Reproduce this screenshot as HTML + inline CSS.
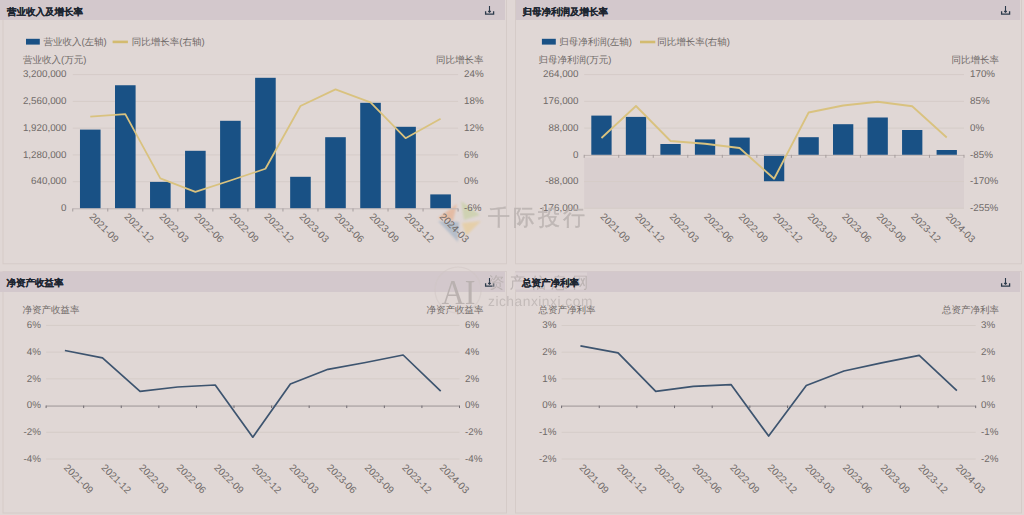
<!DOCTYPE html>
<html><head><meta charset="utf-8"><style>
html,body{margin:0;padding:0;width:1024px;height:515px;overflow:hidden;background:#e0d7d5;}
svg{display:block;font-family:'Liberation Sans', sans-serif;text-rendering:geometricPrecision;}
</style></head><body>
<svg width="1024" height="515" viewBox="0 0 1024 515">
<rect x="0" y="0" width="1024" height="515" fill="#e0d7d5"/>
<rect x="3" y="-0.5" width="503.5" height="264.3" fill="#e0d7d5" stroke="#d5cbc8" stroke-width="1"/>
<rect x="0" y="-0.5" width="505.00" height="20.5" fill="#d3c8cc"/>
<path d="M489.5 6.0V12.3M488.2 11.0L489.5 12.3L490.8 11.0" stroke="#2b3a4a" stroke-width="1.1" fill="none"/>
<path d="M485.6 11.2V14.2H493.6V11.2" stroke="#2b3a4a" stroke-width="1.3" fill="none"/>
<rect x="515.5" y="-0.5" width="506.0" height="264.3" fill="#e0d7d5" stroke="#d5cbc8" stroke-width="1"/>
<rect x="516.0" y="-0.5" width="504.00" height="20.5" fill="#d3c8cc"/>
<path d="M1005.5 6.0V12.3M1004.2 11.0L1005.5 12.3L1006.8 11.0" stroke="#2b3a4a" stroke-width="1.1" fill="none"/>
<path d="M1001.6 11.2V14.2H1009.6V11.2" stroke="#2b3a4a" stroke-width="1.3" fill="none"/>
<rect x="3" y="271.5" width="503.5" height="241.5" fill="#e0d7d5" stroke="#d5cbc8" stroke-width="1"/>
<rect x="0" y="271.5" width="505.00" height="20.5" fill="#d3c8cc"/>
<path d="M489.5 278.0V284.3M488.2 283.0L489.5 284.3L490.8 283.0" stroke="#2b3a4a" stroke-width="1.1" fill="none"/>
<path d="M485.6 283.2V286.2H493.6V283.2" stroke="#2b3a4a" stroke-width="1.3" fill="none"/>
<rect x="515.5" y="271.5" width="506.0" height="241.5" fill="#e0d7d5" stroke="#d5cbc8" stroke-width="1"/>
<rect x="516.0" y="271.5" width="504.00" height="20.5" fill="#d3c8cc"/>
<path d="M1005.5 278.0V284.3M1004.2 283.0L1005.5 284.3L1006.8 283.0" stroke="#2b3a4a" stroke-width="1.1" fill="none"/>
<path d="M1001.6 283.2V286.2H1009.6V283.2" stroke="#2b3a4a" stroke-width="1.3" fill="none"/>
<defs><filter id="bl" x="-20%" y="-20%" width="140%" height="140%"><feGaussianBlur stdDeviation="0.9"/></filter></defs><g opacity="0.7" filter="url(#bl)">
<polygon points="438,218 457,204 453,221" fill="#e6b08f"/>
<polygon points="461,201 480,215 464,220" fill="#c8d0a4"/>
<polygon points="438,221 459,222 458,242" fill="#a4b4c6"/>
<polygon points="462,223 481,221 466,236" fill="#e8cc98"/>
</g>
<line x1="72.75" y1="74.6" x2="458.1" y2="74.6" stroke="#d5ccc8" stroke-width="1"/>
<line x1="72.75" y1="101.38" x2="458.1" y2="101.38" stroke="#d5ccc8" stroke-width="1"/>
<line x1="72.75" y1="128.16" x2="458.1" y2="128.16" stroke="#d5ccc8" stroke-width="1"/>
<line x1="72.75" y1="154.94" x2="458.1" y2="154.94" stroke="#d5ccc8" stroke-width="1"/>
<line x1="72.75" y1="181.72" x2="458.1" y2="181.72" stroke="#d5ccc8" stroke-width="1"/>
<rect x="79.97" y="129.6" width="20.6" height="78.90" fill="#195185"/>
<rect x="115.00" y="85.25" width="20.6" height="123.25" fill="#195185"/>
<rect x="150.03" y="181.9" width="20.6" height="26.60" fill="#195185"/>
<rect x="185.06" y="150.8" width="20.6" height="57.70" fill="#195185"/>
<rect x="220.09" y="120.8" width="20.6" height="87.70" fill="#195185"/>
<rect x="255.12" y="77.8" width="20.6" height="130.70" fill="#195185"/>
<rect x="290.16" y="176.8" width="20.6" height="31.70" fill="#195185"/>
<rect x="325.19" y="137.2" width="20.6" height="71.30" fill="#195185"/>
<rect x="360.22" y="102.8" width="20.6" height="105.70" fill="#195185"/>
<rect x="395.25" y="126.8" width="20.6" height="81.70" fill="#195185"/>
<rect x="430.28" y="194.4" width="20.6" height="14.10" fill="#195185"/>
<line x1="72.75" y1="208.8" x2="458.1" y2="208.8" stroke="#bdb4b4" stroke-width="1"/>
<line x1="72.75" y1="208.5" x2="72.75" y2="211.5" stroke="#a59d9d" stroke-width="1"/>
<line x1="107.78" y1="208.5" x2="107.78" y2="211.5" stroke="#a59d9d" stroke-width="1"/>
<line x1="142.81" y1="208.5" x2="142.81" y2="211.5" stroke="#a59d9d" stroke-width="1"/>
<line x1="177.85" y1="208.5" x2="177.85" y2="211.5" stroke="#a59d9d" stroke-width="1"/>
<line x1="212.88" y1="208.5" x2="212.88" y2="211.5" stroke="#a59d9d" stroke-width="1"/>
<line x1="247.91" y1="208.5" x2="247.91" y2="211.5" stroke="#a59d9d" stroke-width="1"/>
<line x1="282.94" y1="208.5" x2="282.94" y2="211.5" stroke="#a59d9d" stroke-width="1"/>
<line x1="317.97" y1="208.5" x2="317.97" y2="211.5" stroke="#a59d9d" stroke-width="1"/>
<line x1="353.00" y1="208.5" x2="353.00" y2="211.5" stroke="#a59d9d" stroke-width="1"/>
<line x1="388.04" y1="208.5" x2="388.04" y2="211.5" stroke="#a59d9d" stroke-width="1"/>
<line x1="423.07" y1="208.5" x2="423.07" y2="211.5" stroke="#a59d9d" stroke-width="1"/>
<line x1="458.10" y1="208.5" x2="458.10" y2="211.5" stroke="#a59d9d" stroke-width="1"/>
<polyline points="90.27,116.7 125.30,114.1 160.33,178.4 195.36,191.9 230.39,180.5 265.43,168.75 300.46,106 335.49,89.4 370.52,102.3 405.55,138.2 440.58,118.7" fill="none" stroke="#d9c27f" stroke-width="1.8" stroke-linejoin="round"/>
<text x="66.5" y="77.30" font-size="9.8" fill="#6f6967" text-anchor="end">3,200,000</text>
<text x="66.5" y="104.08" font-size="9.8" fill="#6f6967" text-anchor="end">2,560,000</text>
<text x="66.5" y="130.86" font-size="9.8" fill="#6f6967" text-anchor="end">1,920,000</text>
<text x="66.5" y="157.64" font-size="9.8" fill="#6f6967" text-anchor="end">1,280,000</text>
<text x="66.5" y="184.42" font-size="9.8" fill="#6f6967" text-anchor="end">640,000</text>
<text x="66.5" y="211.20" font-size="9.8" fill="#6f6967" text-anchor="end">0</text>
<text x="464" y="77.30" font-size="9.8" fill="#6f6967">24%</text>
<text x="464" y="104.08" font-size="9.8" fill="#6f6967">18%</text>
<text x="464" y="130.86" font-size="9.8" fill="#6f6967">12%</text>
<text x="464" y="157.64" font-size="9.8" fill="#6f6967">6%</text>
<text x="464" y="184.42" font-size="9.8" fill="#6f6967">0%</text>
<text x="464" y="211.20" font-size="9.8" fill="#6f6967">-6%</text>
<text x="23" y="62.9" font-size="9.5" fill="#6f6967">营业收入(万元)</text>
<text x="483.5" y="62.9" font-size="9.5" fill="#6f6967" text-anchor="end">同比增长率</text>
<text transform="translate(88.67,217.20) rotate(45)" font-size="10" fill="#6f6967">2021-09</text>
<text transform="translate(123.70,217.20) rotate(45)" font-size="10" fill="#6f6967">2021-12</text>
<text transform="translate(158.73,217.20) rotate(45)" font-size="10" fill="#6f6967">2022-03</text>
<text transform="translate(193.76,217.20) rotate(45)" font-size="10" fill="#6f6967">2022-06</text>
<text transform="translate(228.79,217.20) rotate(45)" font-size="10" fill="#6f6967">2022-09</text>
<text transform="translate(263.82,217.20) rotate(45)" font-size="10" fill="#6f6967">2022-12</text>
<text transform="translate(298.86,217.20) rotate(45)" font-size="10" fill="#6f6967">2023-03</text>
<text transform="translate(333.89,217.20) rotate(45)" font-size="10" fill="#6f6967">2023-06</text>
<text transform="translate(368.92,217.20) rotate(45)" font-size="10" fill="#6f6967">2023-09</text>
<text transform="translate(403.95,217.20) rotate(45)" font-size="10" fill="#6f6967">2023-12</text>
<text transform="translate(438.98,217.20) rotate(45)" font-size="10" fill="#6f6967">2024-03</text>
<rect x="26" y="38.8" width="13.8" height="5.8" fill="#195185"/>
<text x="43.4" y="45" font-size="9.5" fill="#6f6967">营业收入(左轴)</text>
<line x1="112.6" y1="41.9" x2="127.9" y2="41.9" stroke="#d3bb70" stroke-width="2.6"/>
<text x="131.8" y="45" font-size="9.5" fill="#6f6967">同比增长率(右轴)</text>
<rect x="584.2" y="157.5" width="379.80" height="50.80" fill="#d9cfcf"/>
<line x1="584.2" y1="74.6" x2="964" y2="74.6" stroke="#d5ccc8" stroke-width="1"/>
<line x1="584.2" y1="101.34" x2="964" y2="101.34" stroke="#d5ccc8" stroke-width="1"/>
<line x1="584.2" y1="128.07999999999998" x2="964" y2="128.07999999999998" stroke="#d5ccc8" stroke-width="1"/>
<line x1="584.2" y1="181.56" x2="964" y2="181.56" stroke="#d5ccc8" stroke-width="1"/>
<line x1="584.2" y1="208.3" x2="964" y2="208.3" stroke="#d5ccc8" stroke-width="1"/>
<rect x="591.31" y="115.60" width="20.3" height="39.22" fill="#195185"/>
<rect x="625.84" y="116.90" width="20.3" height="37.92" fill="#195185"/>
<rect x="660.37" y="144.00" width="20.3" height="10.82" fill="#195185"/>
<rect x="694.90" y="139.40" width="20.3" height="15.42" fill="#195185"/>
<rect x="729.42" y="137.60" width="20.3" height="17.22" fill="#195185"/>
<rect x="763.95" y="154.82" width="20.3" height="26.43" fill="#195185"/>
<rect x="798.48" y="137.20" width="20.3" height="17.62" fill="#195185"/>
<rect x="833.00" y="124.20" width="20.3" height="30.62" fill="#195185"/>
<rect x="867.53" y="117.50" width="20.3" height="37.32" fill="#195185"/>
<rect x="902.06" y="130.00" width="20.3" height="24.82" fill="#195185"/>
<rect x="936.59" y="150.00" width="20.3" height="4.82" fill="#195185"/>
<line x1="584.2" y1="155.42" x2="964" y2="155.42" stroke="#bdb4b4" stroke-width="1"/>
<line x1="584.20" y1="154.82" x2="584.20" y2="157.82" stroke="#a59d9d" stroke-width="1"/>
<line x1="618.73" y1="154.82" x2="618.73" y2="157.82" stroke="#a59d9d" stroke-width="1"/>
<line x1="653.25" y1="154.82" x2="653.25" y2="157.82" stroke="#a59d9d" stroke-width="1"/>
<line x1="687.78" y1="154.82" x2="687.78" y2="157.82" stroke="#a59d9d" stroke-width="1"/>
<line x1="722.31" y1="154.82" x2="722.31" y2="157.82" stroke="#a59d9d" stroke-width="1"/>
<line x1="756.84" y1="154.82" x2="756.84" y2="157.82" stroke="#a59d9d" stroke-width="1"/>
<line x1="791.36" y1="154.82" x2="791.36" y2="157.82" stroke="#a59d9d" stroke-width="1"/>
<line x1="825.89" y1="154.82" x2="825.89" y2="157.82" stroke="#a59d9d" stroke-width="1"/>
<line x1="860.42" y1="154.82" x2="860.42" y2="157.82" stroke="#a59d9d" stroke-width="1"/>
<line x1="894.95" y1="154.82" x2="894.95" y2="157.82" stroke="#a59d9d" stroke-width="1"/>
<line x1="929.47" y1="154.82" x2="929.47" y2="157.82" stroke="#a59d9d" stroke-width="1"/>
<line x1="964.00" y1="154.82" x2="964.00" y2="157.82" stroke="#a59d9d" stroke-width="1"/>
<polyline points="601.46,138 635.99,106 670.52,141 705.05,143.75 739.57,148 774.10,178.75 808.63,112.5 843.15,105.5 877.68,101.75 912.21,106.25 946.74,137.5" fill="none" stroke="#d9c27f" stroke-width="1.8" stroke-linejoin="round"/>
<text x="578.5" y="77.30" font-size="9.8" fill="#6f6967" text-anchor="end">264,000</text>
<text x="578.5" y="104.04" font-size="9.8" fill="#6f6967" text-anchor="end">176,000</text>
<text x="578.5" y="130.78" font-size="9.8" fill="#6f6967" text-anchor="end">88,000</text>
<text x="578.5" y="157.52" font-size="9.8" fill="#6f6967" text-anchor="end">0</text>
<text x="578.5" y="184.26" font-size="9.8" fill="#6f6967" text-anchor="end">-88,000</text>
<text x="578.5" y="211.00" font-size="9.8" fill="#6f6967" text-anchor="end">-176,000</text>
<text x="970" y="77.30" font-size="9.8" fill="#6f6967">170%</text>
<text x="970" y="104.04" font-size="9.8" fill="#6f6967">85%</text>
<text x="970" y="130.78" font-size="9.8" fill="#6f6967">0%</text>
<text x="970" y="157.52" font-size="9.8" fill="#6f6967">-85%</text>
<text x="970" y="184.26" font-size="9.8" fill="#6f6967">-170%</text>
<text x="970" y="211.00" font-size="9.8" fill="#6f6967">-255%</text>
<text x="538.5" y="62.9" font-size="9.5" fill="#6f6967">归母净利润(万元)</text>
<text x="999" y="62.9" font-size="9.5" fill="#6f6967" text-anchor="end">同比增长率</text>
<text transform="translate(599.86,217.20) rotate(45)" font-size="10" fill="#6f6967">2021-09</text>
<text transform="translate(634.39,217.20) rotate(45)" font-size="10" fill="#6f6967">2021-12</text>
<text transform="translate(668.92,217.20) rotate(45)" font-size="10" fill="#6f6967">2022-03</text>
<text transform="translate(703.45,217.20) rotate(45)" font-size="10" fill="#6f6967">2022-06</text>
<text transform="translate(737.97,217.20) rotate(45)" font-size="10" fill="#6f6967">2022-09</text>
<text transform="translate(772.50,217.20) rotate(45)" font-size="10" fill="#6f6967">2022-12</text>
<text transform="translate(807.03,217.20) rotate(45)" font-size="10" fill="#6f6967">2023-03</text>
<text transform="translate(841.55,217.20) rotate(45)" font-size="10" fill="#6f6967">2023-06</text>
<text transform="translate(876.08,217.20) rotate(45)" font-size="10" fill="#6f6967">2023-09</text>
<text transform="translate(910.61,217.20) rotate(45)" font-size="10" fill="#6f6967">2023-12</text>
<text transform="translate(945.14,217.20) rotate(45)" font-size="10" fill="#6f6967">2024-03</text>
<rect x="541.9" y="38.8" width="13.9" height="5.8" fill="#195185"/>
<text x="559.2" y="45" font-size="9.5" fill="#6f6967">归母净利润(左轴)</text>
<line x1="640" y1="42" x2="655.3" y2="42" stroke="#d3bb70" stroke-width="2.6"/>
<text x="657.2" y="45" font-size="9.5" fill="#6f6967">同比增长率(右轴)</text>
<line x1="46.1" y1="325.4" x2="459.5" y2="325.4" stroke="#d5ccc8" stroke-width="1"/>
<line x1="46.1" y1="352.12" x2="459.5" y2="352.12" stroke="#d5ccc8" stroke-width="1"/>
<line x1="46.1" y1="378.84" x2="459.5" y2="378.84" stroke="#d5ccc8" stroke-width="1"/>
<line x1="46.1" y1="432.28" x2="459.5" y2="432.28" stroke="#d5ccc8" stroke-width="1"/>
<line x1="46.1" y1="459.0" x2="459.5" y2="459.0" stroke="#d5ccc8" stroke-width="1"/>
<line x1="46.1" y1="406.06" x2="459.5" y2="406.06" stroke="#9c9496" stroke-width="1"/>
<line x1="46.10" y1="405.56" x2="46.10" y2="408.06" stroke="#6f6a70" stroke-width="1"/>
<line x1="83.68" y1="405.56" x2="83.68" y2="408.06" stroke="#6f6a70" stroke-width="1"/>
<line x1="121.26" y1="405.56" x2="121.26" y2="408.06" stroke="#6f6a70" stroke-width="1"/>
<line x1="158.85" y1="405.56" x2="158.85" y2="408.06" stroke="#6f6a70" stroke-width="1"/>
<line x1="196.43" y1="405.56" x2="196.43" y2="408.06" stroke="#6f6a70" stroke-width="1"/>
<line x1="234.01" y1="405.56" x2="234.01" y2="408.06" stroke="#6f6a70" stroke-width="1"/>
<line x1="271.59" y1="405.56" x2="271.59" y2="408.06" stroke="#6f6a70" stroke-width="1"/>
<line x1="309.17" y1="405.56" x2="309.17" y2="408.06" stroke="#6f6a70" stroke-width="1"/>
<line x1="346.75" y1="405.56" x2="346.75" y2="408.06" stroke="#6f6a70" stroke-width="1"/>
<line x1="384.34" y1="405.56" x2="384.34" y2="408.06" stroke="#6f6a70" stroke-width="1"/>
<line x1="421.92" y1="405.56" x2="421.92" y2="408.06" stroke="#6f6a70" stroke-width="1"/>
<line x1="459.50" y1="405.56" x2="459.50" y2="408.06" stroke="#6f6a70" stroke-width="1"/>
<polyline points="64.89,350.5 102.47,357.9 140.05,391.4 177.64,387 215.22,385 252.80,437.2 290.38,384 327.96,369.3 365.55,362.5 403.13,355 440.71,391.2" fill="none" stroke="#3d546f" stroke-width="1.7" stroke-linejoin="round"/>
<text x="41" y="328.10" font-size="9.8" fill="#6f6967" text-anchor="end">6%</text>
<text x="41" y="354.82" font-size="9.8" fill="#6f6967" text-anchor="end">4%</text>
<text x="41" y="381.54" font-size="9.8" fill="#6f6967" text-anchor="end">2%</text>
<text x="41" y="408.26" font-size="9.8" fill="#6f6967" text-anchor="end">0%</text>
<text x="41" y="434.98" font-size="9.8" fill="#6f6967" text-anchor="end">-2%</text>
<text x="41" y="461.70" font-size="9.8" fill="#6f6967" text-anchor="end">-4%</text>
<text x="465" y="328.10" font-size="9.8" fill="#6f6967">6%</text>
<text x="465" y="354.82" font-size="9.8" fill="#6f6967">4%</text>
<text x="465" y="381.54" font-size="9.8" fill="#6f6967">2%</text>
<text x="465" y="408.26" font-size="9.8" fill="#6f6967">0%</text>
<text x="465" y="434.98" font-size="9.8" fill="#6f6967">-2%</text>
<text x="465" y="461.70" font-size="9.8" fill="#6f6967">-4%</text>
<text x="22.5" y="313" font-size="9.5" fill="#6f6967">净资产收益率</text>
<text x="483.5" y="313" font-size="9.5" fill="#6f6967" text-anchor="end">净资产收益率</text>
<text transform="translate(63.29,468.20) rotate(45)" font-size="10" fill="#6f6967">2021-09</text>
<text transform="translate(100.87,468.20) rotate(45)" font-size="10" fill="#6f6967">2021-12</text>
<text transform="translate(138.45,468.20) rotate(45)" font-size="10" fill="#6f6967">2022-03</text>
<text transform="translate(176.04,468.20) rotate(45)" font-size="10" fill="#6f6967">2022-06</text>
<text transform="translate(213.62,468.20) rotate(45)" font-size="10" fill="#6f6967">2022-09</text>
<text transform="translate(251.20,468.20) rotate(45)" font-size="10" fill="#6f6967">2022-12</text>
<text transform="translate(288.78,468.20) rotate(45)" font-size="10" fill="#6f6967">2023-03</text>
<text transform="translate(326.36,468.20) rotate(45)" font-size="10" fill="#6f6967">2023-06</text>
<text transform="translate(363.95,468.20) rotate(45)" font-size="10" fill="#6f6967">2023-09</text>
<text transform="translate(401.53,468.20) rotate(45)" font-size="10" fill="#6f6967">2023-12</text>
<text transform="translate(439.11,468.20) rotate(45)" font-size="10" fill="#6f6967">2024-03</text>
<line x1="561.6" y1="325.5" x2="975.7" y2="325.5" stroke="#d5ccc8" stroke-width="1"/>
<line x1="561.6" y1="352.2" x2="975.7" y2="352.2" stroke="#d5ccc8" stroke-width="1"/>
<line x1="561.6" y1="378.9" x2="975.7" y2="378.9" stroke="#d5ccc8" stroke-width="1"/>
<line x1="561.6" y1="432.3" x2="975.7" y2="432.3" stroke="#d5ccc8" stroke-width="1"/>
<line x1="561.6" y1="459.0" x2="975.7" y2="459.0" stroke="#d5ccc8" stroke-width="1"/>
<line x1="561.6" y1="406.1" x2="975.7" y2="406.1" stroke="#9c9496" stroke-width="1"/>
<line x1="561.60" y1="405.6" x2="561.60" y2="408.1" stroke="#6f6a70" stroke-width="1"/>
<line x1="599.25" y1="405.6" x2="599.25" y2="408.1" stroke="#6f6a70" stroke-width="1"/>
<line x1="636.89" y1="405.6" x2="636.89" y2="408.1" stroke="#6f6a70" stroke-width="1"/>
<line x1="674.54" y1="405.6" x2="674.54" y2="408.1" stroke="#6f6a70" stroke-width="1"/>
<line x1="712.18" y1="405.6" x2="712.18" y2="408.1" stroke="#6f6a70" stroke-width="1"/>
<line x1="749.83" y1="405.6" x2="749.83" y2="408.1" stroke="#6f6a70" stroke-width="1"/>
<line x1="787.47" y1="405.6" x2="787.47" y2="408.1" stroke="#6f6a70" stroke-width="1"/>
<line x1="825.12" y1="405.6" x2="825.12" y2="408.1" stroke="#6f6a70" stroke-width="1"/>
<line x1="862.76" y1="405.6" x2="862.76" y2="408.1" stroke="#6f6a70" stroke-width="1"/>
<line x1="900.41" y1="405.6" x2="900.41" y2="408.1" stroke="#6f6a70" stroke-width="1"/>
<line x1="938.05" y1="405.6" x2="938.05" y2="408.1" stroke="#6f6a70" stroke-width="1"/>
<line x1="975.70" y1="405.6" x2="975.70" y2="408.1" stroke="#6f6a70" stroke-width="1"/>
<polyline points="580.42,345.8 618.07,352.8 655.71,391.3 693.36,386.4 731.00,384.6 768.65,436.1 806.30,385.5 843.94,371 881.59,362.8 919.23,355.4 956.88,390.7" fill="none" stroke="#3d546f" stroke-width="1.7" stroke-linejoin="round"/>
<text x="556.5" y="328.20" font-size="9.8" fill="#6f6967" text-anchor="end">3%</text>
<text x="556.5" y="354.90" font-size="9.8" fill="#6f6967" text-anchor="end">2%</text>
<text x="556.5" y="381.60" font-size="9.8" fill="#6f6967" text-anchor="end">1%</text>
<text x="556.5" y="408.30" font-size="9.8" fill="#6f6967" text-anchor="end">0%</text>
<text x="556.5" y="435.00" font-size="9.8" fill="#6f6967" text-anchor="end">-1%</text>
<text x="556.5" y="461.70" font-size="9.8" fill="#6f6967" text-anchor="end">-2%</text>
<text x="981" y="328.20" font-size="9.8" fill="#6f6967">3%</text>
<text x="981" y="354.90" font-size="9.8" fill="#6f6967">2%</text>
<text x="981" y="381.60" font-size="9.8" fill="#6f6967">1%</text>
<text x="981" y="408.30" font-size="9.8" fill="#6f6967">0%</text>
<text x="981" y="435.00" font-size="9.8" fill="#6f6967">-1%</text>
<text x="981" y="461.70" font-size="9.8" fill="#6f6967">-2%</text>
<text x="538.5" y="313" font-size="9.5" fill="#6f6967">总资产净利率</text>
<text x="999" y="313" font-size="9.5" fill="#6f6967" text-anchor="end">总资产净利率</text>
<text transform="translate(578.82,468.20) rotate(45)" font-size="10" fill="#6f6967">2021-09</text>
<text transform="translate(616.47,468.20) rotate(45)" font-size="10" fill="#6f6967">2021-12</text>
<text transform="translate(654.11,468.20) rotate(45)" font-size="10" fill="#6f6967">2022-03</text>
<text transform="translate(691.76,468.20) rotate(45)" font-size="10" fill="#6f6967">2022-06</text>
<text transform="translate(729.40,468.20) rotate(45)" font-size="10" fill="#6f6967">2022-09</text>
<text transform="translate(767.05,468.20) rotate(45)" font-size="10" fill="#6f6967">2022-12</text>
<text transform="translate(804.70,468.20) rotate(45)" font-size="10" fill="#6f6967">2023-03</text>
<text transform="translate(842.34,468.20) rotate(45)" font-size="10" fill="#6f6967">2023-06</text>
<text transform="translate(879.99,468.20) rotate(45)" font-size="10" fill="#6f6967">2023-09</text>
<text transform="translate(917.63,468.20) rotate(45)" font-size="10" fill="#6f6967">2023-12</text>
<text transform="translate(955.28,468.20) rotate(45)" font-size="10" fill="#6f6967">2024-03</text>
<rect x="514" y="272.5" width="73" height="17" fill="#ddd3d4" opacity="0.8"/>
<text x="488" y="225" font-size="22" fill="#bab2b0" stroke="#bab2b0" stroke-width="0.4" opacity="0.85" letter-spacing="3">千际投行</text>
<circle cx="458" cy="290" r="23" fill="none" stroke="#cfc6c4" stroke-width="1.2" opacity="0.5"/>
<text x="441.5" y="303.5" font-size="35" font-family="Liberation Serif, serif" fill="#b7afad" opacity="0.9" textLength="34" lengthAdjust="spacingAndGlyphs">AI</text>
<text x="488.5" y="288" font-size="16" fill="#b9b1b0" opacity="0.9" letter-spacing="5">资产信息网</text>
<text x="488" y="306" font-size="13.8" fill="#c0b8b6" opacity="0.9" letter-spacing="0.5">zichanxinxi.com</text>
<text x="7" y="14.90" font-size="9.5" font-weight="bold" fill="#1c2530" stroke="#1c2530" stroke-width="0.12">营业收入及增长率</text>
<text x="522.5" y="14.90" font-size="9.5" font-weight="bold" fill="#1c2530" stroke="#1c2530" stroke-width="0.12">归母净利润及增长率</text>
<text x="6.5" y="285.80" font-size="9.5" font-weight="bold" fill="#1c2530" stroke="#1c2530" stroke-width="0.12">净资产收益率</text>
<text x="522" y="285.80" font-size="9.5" font-weight="bold" fill="#1c2530" stroke="#1c2530" stroke-width="0.12">总资产净利率</text>
</svg>
</body></html>
